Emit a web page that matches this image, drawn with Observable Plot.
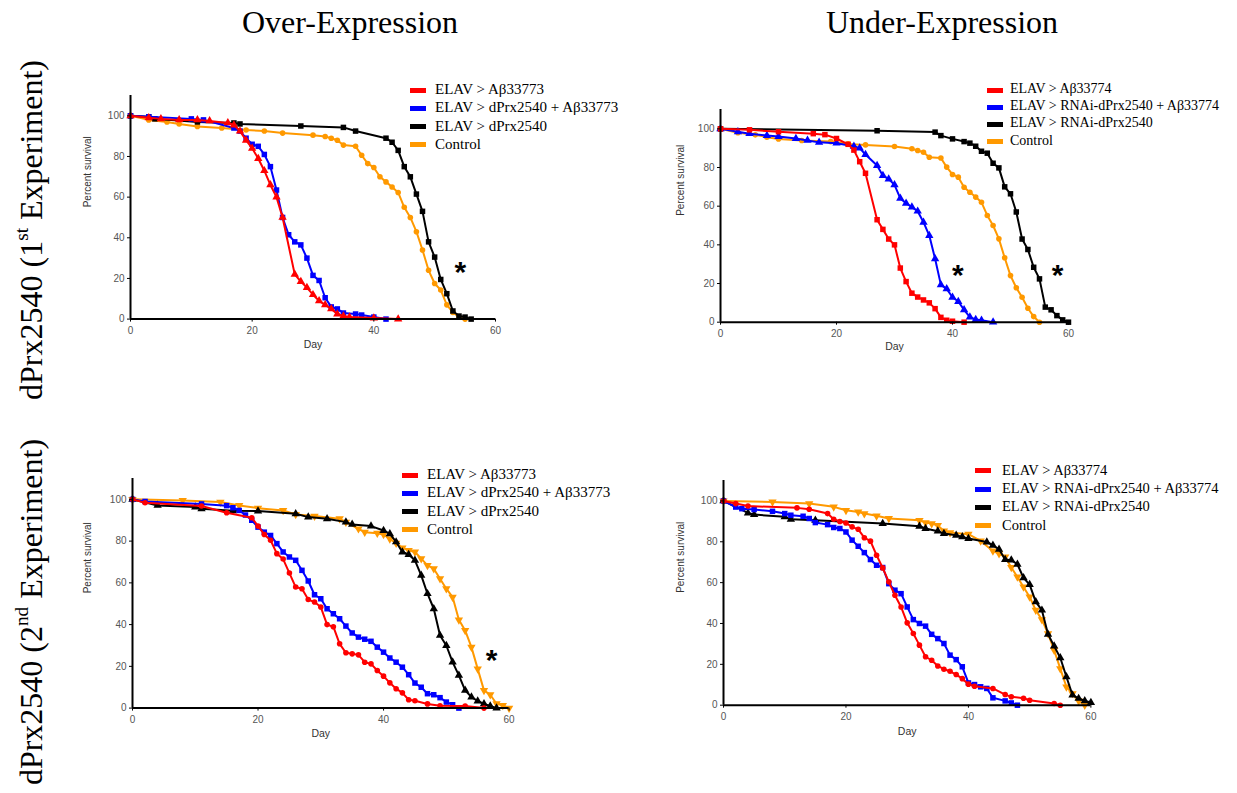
<!DOCTYPE html>
<html><head><meta charset="utf-8">
<script src="https://cdn.jsdelivr.net/npm/d3@7"></script>
<script src="https://cdn.jsdelivr.net/npm/@observablehq/plot@0.6"></script>
<style>
body{margin:0;background:#fff;}
#root{position:relative;width:1237px;height:793px;overflow:hidden;background:#fff;font-family:"Liberation Sans",Arial,sans-serif;}
.abs{position:absolute;white-space:nowrap;line-height:1;}
.title{font-family:"Liberation Serif","Times New Roman",serif;font-size:32px;color:#000;transform:translate(-50%,-50%);}
.rowlab{font-family:"Liberation Serif","Times New Roman",serif;font-size:32px;color:#000;transform:translate(-50%,-50%) rotate(-90deg);}
.rowlab sup{font-size:0.6em;line-height:0;vertical-align:0.75em;}
.legtxt{font-family:"Liberation Serif","Times New Roman",serif;color:#000;transform:translateY(-55%);}
</style></head>
<body><div id="root"></div>
<script>
// ---------- data: [day, percent survival] ----------
const days = [0, 20, 40, 60];
const pctTicks = [0, 20, 40, 60, 80, 100];
const columnTitles = ["Over-Expression", "Under-Expression"];
const rowLabels = [["dPrx2540 (1", "st", " Experiment)"], ["dPrx2540 (2", "nd", " Experiment)"]];
const legendOver = ["ELAV > Aβ33773", "ELAV > dPrx2540 + Aβ33773", "ELAV > dPrx2540", "Control"];
const legendUnder = ["ELAV > Aβ33774", "ELAV > RNAi-dPrx2540 + Aβ33774", "ELAV > RNAi-dPrx2540", "Control"];

const p1Red = [[0,100],[3,99],[5,98.5],[8,98],[11,98],[13,97.5],[16,96.5],[17,95.5],[18,92.5],[19,88],[20,84],[21,79],[22,73],[23,66],[24,60],[25,50],[27,22],[28,18.5],[29,15.5],[30,12],[31,9],[32,7],[33,5],[34,2.5],[35,1.5],[36,1],[40,0.5],[44,0]];
const p1Blue = [[0,100],[3,99.5],[10,98.5],[12,98],[17,94],[18,92.5],[19,89],[20,86],[21,85],[22,81],[23,75],[24,63.5],[25,50],[26,41.5],[27,38],[28,36.5],[29,30],[30,21.5],[31,19],[32,10.5],[33,6],[34,5],[35,3],[37,2.5],[38,2],[40,1],[42,0]];
const p1Black = [[0,100],[3,99.5],[4,98.5],[11,97],[17,96.5],[18,96],[28,95],[35,94.3],[37,92.5],[42,89],[43,87],[44,83],[45,75],[46,70],[47,61.5],[48,53],[49,38],[50,30.5],[51,19.5],[52,12.5],[53,4],[54,1.5],[55,1],[56,0]];
const p1Orange = [[0,100],[3,98],[6,97],[8,96],[11,94.8],[15,94],[19,93],[22,92.5],[25,91.5],[30,90.5],[32,89.8],[33,89],[34,88],[35,85.6],[37,85],[38,80.6],[39,76.5],[40,74.6],[41,70],[42,67.5],[43,65],[44,62.3],[45,55],[46,50],[47,43],[48,34],[49,24],[50,17.5],[51,14.3],[52,7],[53,3.3],[54,1],[55,0]];
const p1Stars = [[54.2,26.6]];

const p2Red = [[0,100],[5,99.5],[10,98.5],[16,97.5],[18,97],[20,95],[22,92],[23,89],[24,83],[25,77],[27,53],[28,48],[29,43],[30,40],[31,28],[32,21],[33,15],[34,13],[35,11.5],[36,10],[37,7],[38,2.5],[39,1],[40,0.5],[42,0]];
const p2Blue = [[0,100],[3,98.5],[5,97.5],[8,96.5],[10,96],[13,95],[15,94],[17,93],[20,92.6],[23,91],[24,90],[25,86.7],[27,81],[28,75.8],[29,74],[30,71],[31,64],[32,61.5],[33,59.5],[34,57.4],[35,51.7],[36,44.8],[37,32.8],[38,19.3],[39,17.2],[40,12.9],[41,10.7],[42,6.4],[43,2.6],[44,1.4],[45,1],[47,0]];
const p2Black = [[0,100],[27,99],[37,98.3],[38,96.5],[40,94.8],[42,93.4],[43,92.6],[44,91],[45,88.4],[46,87.4],[47,82.2],[48,79.8],[49,70],[50,66.4],[51,57],[52,43],[53,37.6],[54,28.4],[55,22.4],[56,7.8],[57,6.4],[58,3.4],[59,1.2],[60,0]];
const p2Orange = [[0,100],[3,98],[6,96.9],[8,95.7],[10,94.8],[14,94],[19,93.4],[22,92.2],[25,91.7],[30,90.9],[33,89.7],[34,88.8],[35,87.9],[36,85.3],[38,84.9],[39,80.2],[40,76.4],[41,75],[42,69.8],[43,67.2],[44,64.7],[45,62],[46,55.2],[47,50],[48,43.1],[49,33.3],[50,24.1],[51,17.8],[52,12.9],[53,7.2],[54,2.9],[55,0]];
const p2Stars = [[40.9,27.8],[58.1,27.8]];

const p3Red = [[0,100],[2,98.4],[11,96.8],[15,93.6],[19,91.2],[20,87.2],[21,83.2],[22,80.4],[23,74],[24,71.4],[25,64.7],[26,58],[27,57.2],[28,52],[29,50.8],[30,48.4],[31,40],[32,39],[33,30.8],[34,26.5],[35,26],[36,25.5],[37,22],[38,21.2],[39,18],[40,15.3],[41,12.1],[42,9.3],[43,7.3],[44,4],[45,3.5],[47,2],[49,1.1],[53,1],[56,0]];
const p3Blue = [[0,100],[2,99],[11,97.8],[15,97],[16,96],[17,94.7],[18,92.5],[19,90],[20,86.7],[21,84.3],[22,82.7],[23,78.8],[24,74.8],[25,72.4],[26,70.8],[27,66],[28,60.9],[29,54.3],[30,52.4],[31,47.6],[32,45.2],[33,42.8],[34,39.3],[35,36],[36,34],[37,33],[38,32],[39,29.2],[40,26.8],[41,24],[42,22],[43,19.6],[44,16],[45,12],[46,10],[47,6.9],[48,6.4],[49,5],[50,2.9],[51,1.6],[52,0]];
const p3Black = [[0,100],[4,97.1],[10,96.3],[11,95.5],[16,94.5],[20,94.4],[26,93.1],[28,91.5],[31,90.7],[34,89.1],[35,88],[38,87.2],[40,85.1],[41,83.5],[42,79.6],[43,74.8],[44,73.6],[45,70.8],[46,63.6],[47,54.8],[48,47.6],[49,34.8],[50,30],[51,22],[52,15.7],[53,8.5],[54,5.3],[55,3.4],[56,2],[57,1],[58,0]];
const p3Orange = [[0,100],[8,99.5],[14,98.7],[17,97.1],[20,95.8],[24,94.7],[26,92.8],[29,92],[33,90.7],[34,89.1],[36,85.9],[37,84.3],[39,83.8],[40,83.2],[41,81.1],[42,79],[43,76.8],[44,75.6],[45,74.8],[46,71.6],[47,68.4],[48,66.8],[49,62],[50,57.2],[51,53.2],[52,42.3],[53,37.2],[54,29.2],[55,18.8],[56,8.5],[57,6.4],[58,2.1],[59,1.3],[60,0]];
const p3Stars = [[57.2,26.2]];

const p4Red = [[0,100],[2,98.7],[4,97.5],[12,96.6],[14,95.9],[17,93.8],[18,91],[19,89.9],[20,89.2],[21,87.3],[22,86.1],[23,82],[24,80.3],[25,73.4],[26,67.2],[27,60.4],[28,53.8],[29,48.1],[30,40.3],[31,35.1],[32,29.4],[33,23.7],[34,22],[35,19.2],[36,17.6],[37,16.6],[38,15],[39,13],[40,10.3],[41,9.3],[44,8.2],[46,5.2],[47,4.1],[49,3.4],[50,2.4],[54,0.8],[55,0]];
const p4Blue = [[0,100],[2,97],[3,96.2],[5,95.8],[8,94.9],[10,93.8],[11,93],[13,92.5],[14,91.4],[15,89.4],[17,88.4],[18,87],[19,86.5],[20,84.8],[21,80.8],[22,77.8],[23,74.7],[24,71.3],[25,68.5],[26,67.4],[27,59.5],[28,56.3],[29,54.6],[30,48.1],[31,41.9],[32,40],[33,38.7],[34,34.7],[35,32.6],[36,30.2],[37,24.5],[38,22.3],[39,18.8],[40,10.9],[41,10.1],[42,9],[43,8.2],[44,3.6],[46,2.1],[47,1.1],[48,0]];
const p4Black = [[0,100],[4,94.1],[5,93.3],[10,92.2],[11,91],[15,90.5],[26,88.9],[32,87.6],[33,86.5],[35,85.2],[36,84],[38,83.2],[39,82.4],[40,81.6],[43,79.9],[44,78.3],[45,76.3],[46,71.3],[47,71],[48,69],[49,62.3],[50,59],[51,50.6],[52,46.5],[53,34.7],[54,28.9],[55,23.2],[56,13.9],[57,4.9],[58,3.3],[59,2.1],[60,1.3]];
const p4Orange = [[0,100],[8,99.5],[14,98.7],[18,97.1],[20,95.4],[22,94.6],[23,93.8],[25,92.7],[27,91.4],[32,90.5],[33,89.4],[34,88.9],[35,88],[36,85.3],[37,84.5],[40,83.7],[42,80.4],[44,75.5],[45,74.2],[46,72.6],[47,67.4],[48,62.8],[49,57.9],[50,53],[51,46.5],[52,41.9],[53,35],[54,26.9],[55,17.9],[56,9],[57,5.7],[58,2.1],[59,0]];
const p4Stars = [];

// ---------- styling / layout ----------
const colors = {red: "#ff0000", blue: "#0000ff", black: "#000000", orange: "#ff9900"};
const legendOrder = ["red", "blue", "black", "orange"];
const drawOrder = ["orange", "black", "blue", "red"];

const panels = [
  {x0:130, x60:495, yTop:95.4, y0:319, data:{red:p1Red, blue:p1Blue, black:p1Black, orange:p1Orange},
   sym:{red:"triangle", blue:"square", black:"square", orange:"circle"}, stars:p1Stars, legend:legendOver,
   leg:{rx:410, tx:435, y:90, dy:18.3, fs:15}, ylab:43, dayOff:29},
  {x0:720, x60:1068, yTop:109, y0:321.7, data:{red:p2Red, blue:p2Blue, black:p2Black, orange:p2Orange},
   sym:{red:"square", blue:"triangle", black:"square", orange:"circle"}, stars:p2Stars, legend:legendUnder,
   leg:{rx:987, tx:1010, y:90, dy:17.2, fs:14}, ylab:40, dayOff:28},
  {x0:131.7, x60:508.3, yTop:478.1, y0:707.7, data:{red:p3Red, blue:p3Blue, black:p3Black, orange:p3Orange},
   sym:{red:"circle", blue:"square", black:"triangle", orange:"triangleDown"}, stars:p3Stars, legend:legendOver,
   leg:{rx:402, tx:427, y:475, dy:18.3, fs:15}, ylab:45, dayOff:29},
  {x0:723.3, x60:1090.7, yTop:480.3, y0:705, data:{red:p4Red, blue:p4Blue, black:p4Black, orange:p4Orange},
   sym:{red:"circle", blue:"square", black:"triangle", orange:"triangleDown"}, stars:p4Stars, legend:legendUnder,
   leg:{rx:975, tx:1002, y:470.7, dy:18.3, fs:14.5}, ylab:43, dayOff:30}
];

const root = document.getElementById("root");

function addDiv(cls, html, left, top, extra) {
  const d = document.createElement("div");
  d.className = "abs " + cls;
  d.innerHTML = html;
  d.style.left = left + "px";
  d.style.top = top + "px";
  if (extra) Object.assign(d.style, extra);
  root.appendChild(d);
  return d;
}

function makePanel(p) {
  const ml = 70, mt = 20, mr = 20, mb = 45;
  const W = p.x60 - p.x0, H = p.y0 - p.yTop;
  const marks = [];
  for (const k of drawOrder) {
    const pts = p.data[k].map(([day, pct]) => ({day, pct}));
    const s = p.sym[k];
    marks.push(Plot.line(pts, {x: "day", y: "pct", stroke: colors[k], strokeWidth: 2}));
    marks.push(Plot.dot(pts, {x: "day", y: "pct", fill: colors[k], stroke: "none",
      symbol: s === "triangleDown" ? "triangle" : s, rotate: s === "triangleDown" ? 180 : 0,
      r: s === "circle" ? 2.8 : 3.1}));
  }
  marks.push(Plot.ruleY([0], {stroke: "#000", strokeWidth: 2}));
  marks.push(Plot.ruleX([0], {stroke: "#000", strokeWidth: 2}));
  marks.push(Plot.axisX(days, {tickSize: 3, tickPadding: 5, stroke: "#000", fill: "#555", fontSize: 10, label: null}));
  marks.push(Plot.axisY(pctTicks, {tickSize: 3, tickPadding: 3, stroke: "#000", fill: "#555", fontSize: 10, label: null}));
  marks.push(Plot.text(["Day"], {frameAnchor: "bottom", dy: p.dayOff, fontSize: 10.5, fill: "#333"}));
  marks.push(Plot.text(["Percent survival"], {frameAnchor: "left", dx: -p.ylab, rotate: -90, fontSize: 10, fill: "#333"}));
  const stars = p.stars.map(([day, pct]) => ({day, pct}));
  marks.push(Plot.text(stars, {x: "day", y: "pct", text: () => "*", fontSize: 30, fontWeight: "bold", dy: 7, fill: "#000"}));
  const svg = Plot.plot({
    width: W + ml + mr, height: H + mt + mb,
    marginLeft: ml, marginTop: mt, marginRight: mr, marginBottom: mb,
    x: {domain: [0, 60]}, y: {domain: [0, 110]},
    style: {background: "transparent", overflow: "visible", fontFamily: "'Liberation Sans', Arial, sans-serif"},
    marks
  });
  svg.style.position = "absolute";
  svg.style.left = (p.x0 - ml) + "px";
  svg.style.top = (p.yTop - mt) + "px";
  root.appendChild(svg);

  // legend
  p.legend.forEach((lab, i) => {
    const y = p.leg.y + i * p.leg.dy;
    addDiv("", "", p.leg.rx, y - 2.5, {width: "16px", height: "5px", background: colors[legendOrder[i]]});
    addDiv("legtxt", lab, p.leg.tx, y, {fontSize: p.leg.fs + "px"});
  });
}

panels.forEach(makePanel);

addDiv("title", columnTitles[0], 350, 22);
addDiv("title", columnTitles[1], 942, 22);
addDiv("rowlab", rowLabels[0][0] + "<sup>" + rowLabels[0][1] + "</sup>" + rowLabels[0][2], 31, 230);
addDiv("rowlab", rowLabels[1][0] + "<sup>" + rowLabels[1][1] + "</sup>" + rowLabels[1][2], 31, 612);
</script>
</body></html>
